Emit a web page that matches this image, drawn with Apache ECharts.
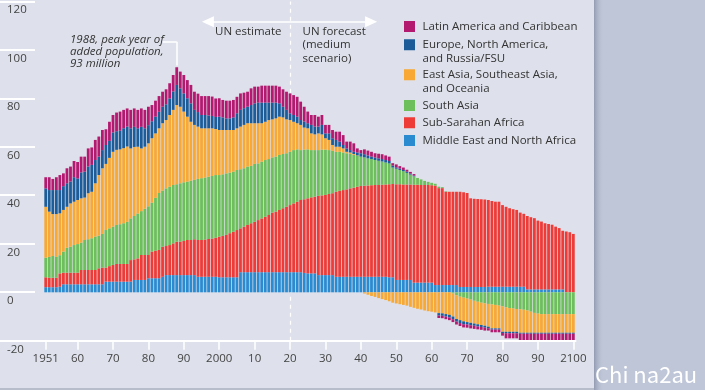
<!DOCTYPE html>
<html>
<head>
<meta charset="utf-8">
<script src="https://cdn.jsdelivr.net/npm/echarts@6/dist/echarts.min.js"></script>
<style>html,body{margin:0;padding:0;background:#dee1eb;}#chart{width:705px;height:390px;}</style>
</head>
<body>
<div id="chart"></div>
<script>
// ---- Data (millions of people added per year, by region) ----
const startYear = 1951;
const endYear = 2100;
const tickYears = [1951, 1960, 1970, 1980, 1990, 2000, 2010, 2020, 2030, 2040, 2050, 2060, 2070, 2080, 2090, 2100];
const yTicks = [-20, 0, 20, 40, 60, 80, 100, 120];

const seriesNames = [
  'Middle East and North Africa',
  'Sub-Sarahan Africa',
  'South Asia',
  'East Asia, Southeast Asia, and Oceania',
  'Europe, North America, and Russia/FSU',
  'Latin America and Caribbean'
];
const legendLabels = {
  'Latin America and Caribbean': 'Latin America and Caribbean',
  'Europe, North America, and Russia/FSU': 'Europe, North America,\nand Russia/FSU',
  'East Asia, Southeast Asia, and Oceania': 'East Asia, Southeast Asia,\nand Oceania',
  'South Asia': 'South Asia',
  'Sub-Sarahan Africa': 'Sub-Sarahan Africa',
  'Middle East and North Africa': 'Middle East and North Africa'
};
const colors = ['#2b8bd1', '#ee3b37', '#6cbf5b', '#f8a834', '#1b5c99', '#b2196f'];

const mena = [
  2.1,2.1,2.1,2.1,2.3,3.3,3.3,3.3,3.3,3.3,
  3.3,3.3,3.3,3.3,3.3,3.3,3.3,4.4,4.4,4.4,
  4.4,4.4,4.4,4.4,4.4,5.1,5.1,5.1,5.1,5.8,
  5.8,5.8,5.8,6.4,7.1,7.1,7.1,7.1,7.1,7.1,
  7.1,7.1,7.1,6.4,6.4,6.4,6.4,6.4,6.4,6.2,
  6.2,6.2,6.2,6.2,6.2,8.3,8.3,8.3,8.3,8.3,
  8.3,8.3,8.3,8.3,8.3,8.3,8.3,8.3,8.3,8.3,
  8.3,8.3,8.3,8.0,7.8,7.8,7.8,7.1,7.1,7.1,
  7.1,7.1,6.4,6.4,6.4,6.4,6.4,6.4,6.4,6.4,
  6.4,6.4,6.4,6.4,6.4,6.4,6.4,6.2,6.2,5.1,
  5.1,5.1,5.1,5.1,4.0,4.0,4.0,4.0,4.0,4.0,
  3.0,3.0,3.0,3.0,3.0,3.0,3.0,2.2,2.2,2.2,
  2.2,2.2,2.2,2.2,2.2,2.3,2.3,2.3,2.3,2.3,
  2.3,2.3,2.3,2.3,2.3,2.3,1.2,1.2,1.2,1.2,
  1.2,1.2,1.2,1.2,1.2,1.2,1.2,0,0,0
];
const subSaharan = [
  4.1,3.9,3.9,3.9,5.5,4.8,4.8,4.8,4.8,4.8,
  5.9,5.9,5.9,5.9,5.9,6.6,6.9,5.8,6.4,6.9,
  7.3,7.3,7.3,7.3,8.9,8.5,8.9,10.3,10.3,9.6,
  11.0,11.4,11.7,12.4,12.0,12.4,13.1,13.8,13.8,14.1,
  14.5,14.5,14.8,15.2,15.2,15.4,15.6,15.8,16.1,16.8,
  17.1,17.5,18.2,18.8,19.5,18.1,18.8,19.5,20.2,20.8,
  21.5,22.2,22.9,23.6,24.6,25.0,25.7,26.4,27.0,27.7,
  28.4,29.1,29.8,30.4,31.0,31.4,31.7,32.7,32.9,33.1,
  33.5,33.8,35.1,35.5,35.8,36.1,36.5,36.8,37.2,37.5,
  37.6,37.7,37.8,37.9,37.9,38.0,38.1,38.4,38.5,39.5,
  39.5,39.4,39.4,39.4,40.4,40.4,40.3,40.3,40.3,40.2,
  41.0,40.0,40.0,38.5,38.5,38.5,38.5,39.3,39.1,38.8,
  36.6,36.4,36.3,36.2,36.1,35.8,35.4,35.1,35.1,33.7,
  33.0,32.4,32.0,31.7,30.6,30.1,30.3,29.8,29.4,28.4,
  28.0,27.3,27.0,26.7,25.9,25.3,24.2,25.1,24.8,24.1
];
const southAsia = [
  8.1,8.6,9.0,8.6,7.5,8.7,10.3,10.7,11.4,11.8,
  11.3,12.4,12.7,13.1,13.8,13.5,13.9,15.5,15.6,15.8,
  16.1,16.4,16.8,17.4,17.2,17.9,18.5,18.1,19.1,20.1,
  20.2,21.8,23.5,23.2,23.8,24.1,24.1,23.7,24.1,24.2,
  24.1,24.5,24.5,25.2,25.5,25.6,25.7,25.8,25.9,25.4,
  25.4,25.4,25.0,24.8,24.8,24.4,24.1,24.1,23.7,23.9,
  23.4,23.4,23.4,23.1,22.8,22.7,22.7,22.4,22.1,22.0,
  22.0,21.6,20.6,20.5,20.2,19.5,19.2,18.9,18.9,18.7,
  18.1,17.5,16.5,16.1,15.5,14.9,14.2,13.5,12.7,12.1,
  11.7,11.2,10.8,10.3,10.0,9.6,9.1,8.6,6.8,6.4,
  5.9,5.5,4.8,4.1,3.5,2.8,2.3,1.7,1.3,1.0,
  0.8,0.6,0.4,0.2,0,-0.5,-1.2,-1.8,-2.2,-2.6,
  -3.0,-3.5,-3.9,-4.3,-4.6,-4.8,-5.0,-5.2,-5.5,-5.8,
  -6.2,-6.5,-6.7,-6.9,-7.0,-7.2,-7.5,-8.0,-8.5,-8.8,
  -9.0,-9.0,-9.0,-9.0,-9.0,-9.0,-9.0,-9.0,-9.0,-9.0
];
const eastAsia = [
  21.0,18.7,17.3,17.7,17.3,17.2,16.9,17.9,17.9,18.2,
  18.3,17.5,19.0,19.2,22.0,25.0,27.1,27.3,29.1,30.9,
  31.0,30.9,31.0,31.1,28.9,28.5,27.6,25.9,25.6,26.0,
  26.6,26.6,26.7,27.8,28.2,29.6,31.0,32.7,31.6,29.2,
  26.8,24.3,22.7,21.6,20.6,20.3,20.0,19.7,19.0,18.6,
  18.3,17.9,17.6,17.2,17.2,17.6,17.9,17.9,17.6,16.8,
  16.6,15.9,15.8,16.1,15.7,15.8,15.8,15.1,14.0,13.1,
  11.7,10.8,10.4,9.1,8.7,6.9,6.5,6.9,6.3,4.7,
  4.2,2.4,2.1,2.1,1.7,0.6,0.6,0.4,0.2,0.0,
  -0.5,-1.0,-1.5,-1.9,-2.4,-2.8,-3.2,-3.7,-4.3,-4.6,
  -4.9,-5.2,-5.5,-6.0,-6.4,-6.8,-7.1,-7.5,-7.8,-8.0,
  -8.3,-8.6,-8.7,-9.0,-9.3,-9.5,-9.8,-9.7,-9.8,-9.7,
  -9.6,-9.4,-9.3,-9.2,-9.2,-9.4,-9.9,-9.7,-9.4,-10.5,
  -10.1,-9.8,-9.6,-9.4,-9.7,-9.5,-9.2,-8.7,-8.2,-7.9,
  -7.7,-7.7,-7.7,-7.7,-7.7,-7.7,-7.7,-7.7,-7.7,-7.7
];
const europe = [
  7.6,8.9,9.9,9.9,9.6,9.8,9.7,9.0,10.1,8.9,
  10.7,10.7,11.0,11.1,9.6,7.6,7.5,7.8,7.0,8.0,
  7.7,7.7,8.2,8.2,8.3,8.3,7.6,8.9,7.6,7.5,
  7.0,6.9,6.8,6.8,6.5,6.8,7.6,8.3,7.6,7.5,
  7.6,7.6,6.2,6.0,5.5,5.5,5.3,5.1,5.0,5.5,
  5.2,4.8,4.8,5.2,6.2,6.9,6.9,6.8,7.5,8.2,
  8.5,8.5,7.9,7.2,6.9,6.5,5.5,4.4,3.9,2.8,
  2.8,2.7,2.0,2.5,2.1,3.5,3.2,2.8,3.9,2.0,
  2.7,2.8,2.8,2.1,1.4,1.4,1.0,0.9,1.2,1.4,
  1.3,1.2,1.0,1.0,1.0,1.0,1.0,1.0,0.8,0.6,
  0.6,0.5,0.5,0.4,0.3,0,0,0,0,0,
  0,-1.0,-1.0,-1.0,-1.1,-1.1,-1.1,-1.2,-1.2,-1.0,
  -1.0,-0.9,-0.9,-0.8,-0.8,-0.6,-0.5,-0.5,-0.5,-0.5,
  -0.6,-0.6,-0.6,-0.6,-0.4,-0.4,-0.4,-0.4,-0.4,-0.4,
  -0.4,-0.4,-0.4,-0.4,-0.4,-0.4,-0.4,-0.4,-0.4,-0.4
];
const latinAmerica = [
  4.6,5.3,4.6,5.3,6.2,5.3,6.2,6.2,6.7,6.8,
  6.5,6.2,7.5,7.2,8.3,8.3,8.3,6.5,7.9,7.2,
  7.7,7.9,7.6,7.5,7.6,7.6,7.6,7.6,7.6,7.6,
  6.7,6.6,6.5,6.2,6.2,6.3,6.8,7.3,6.9,7.6,
  7.5,7.6,7.5,7.6,7.8,7.8,8.0,8.0,7.6,7.6,
  7.2,7.3,7.3,7.2,6.8,6.8,6.4,6.2,6.9,6.9,
  6.6,7.0,7.0,7.0,7.0,7.0,6.9,7.2,7.5,8.2,
  8.2,8.2,7.6,6.1,4.8,4.1,4.8,4.1,4.1,3.5,
  3.5,3.4,3.4,4.1,4.1,2.8,3.5,3.5,1.7,1.3,
  2.0,2.0,2.0,1.8,1.9,2.0,1.9,1.8,1.0,1.2,
  1.0,1.0,0.8,0.7,0.6,0,0,0,0,0,
  0,-1.0,-1.0,-1.1,-1.1,-1.2,-1.2,-1.2,-1.3,-1.3,
  -1.3,-1.3,-1.2,-1.2,-1.2,-1.0,-1.1,-1.1,-1.1,-1.1,
  -2.1,-2.1,-2.1,-2.1,-2.6,-2.6,-2.6,-2.6,-2.6,-2.6,
  -2.6,-2.6,-2.6,-2.6,-2.6,-2.6,-2.6,-2.6,-2.6,-2.6
];
const seriesValues = [mena, subSaharan, southAsia, eastAsia, europe, latinAmerica];

// ---- Build chart ----
const years = [];
for (let y = startYear; y <= endYear; y++) years.push(y);

const FONT = '"Open Sans", "Noto Sans", sans-serif';
const TEXT = '#333333';
const X_MIN = 1938.09, X_MAX = 2100.61;
const STUB_PX = 35; // length of the short gridline stubs on the left

function yearLabel(v) {
  if (v === 1951 || v === 2000 || v === 2100) return String(v);
  return String(v % 100).padStart(2, '0');
}

// data rows are [value, year]; value is dimension 0 so stacking happens on it
const barSeries = seriesNames.map((name, i) => ({
  name: name,
  type: 'bar',
  stack: 'total',
  barWidth: 2.8,
  encode: { x: 1, y: 0 },
  itemStyle: { color: colors[i] },
  emphasis: { disabled: true },
  silent: true,
  data: years.map((yr, k) => [seriesValues[i][k], yr])
}));

// Annotation lines (arrows + leader) on the top series
barSeries[5].markLine = {
  silent: true,
  z: 6,
  animation: false,
  label: { show: false },
  emphasis: { disabled: true },
  lineStyle: { color: '#ffffff', width: 1.5, type: 'solid' },
  symbol: ['none', 'triangle'],
  symbolSize: [11, 12],
  data: [
    [{ coord: [2020, 111.7] }, { coord: [1996.8, 111.7] }],
    [{ coord: [2020, 111.7] }, { coord: [2042.9, 111.7] }],
    [{ coord: [1984.1, 103.4], symbol: 'none' }, { coord: [1988, 103.4], symbol: 'none' }],
    [{ coord: [1988, 103.4], symbol: 'none' }, { coord: [1988, 93.6], symbol: 'none' }]
  ]
};

const dividerSeries = {
  name: 'divider',
  type: 'line',
  data: [],
  silent: true,
  markLine: {
    silent: true,
    z: 1,
    animation: false,
    symbol: 'none',
    label: { show: false },
    emphasis: { disabled: true },
    lineStyle: { color: '#ffffff', width: 1.2, type: [4, 4] },
    data: [{ xAxis: 2020 }]
  }
};

// legend icon for two-line entries: an 11px square at the top of a taller box
const TALL_ICON = 'path://M0 0L11 0L11 11L0 11Z M0 24.5L11 24.5';
const legendOrder = [
  { name: 'Latin America and Caribbean', top: 19.75, two: false },
  { name: 'Europe, North America, and Russia/FSU', top: 38.05, two: true },
  { name: 'East Asia, Southeast Asia, and Oceania', top: 68.05, two: true },
  { name: 'South Asia', top: 98.75, two: false },
  { name: 'Sub-Sarahan Africa', top: 116, two: false },
  { name: 'Middle East and North Africa', top: 133.75, two: false }
];
const legends = legendOrder.map(l => ({
  data: [l.name],
  left: 404,
  top: l.top,
  orient: 'vertical',
  padding: 0,
  itemWidth: 11,
  itemHeight: l.two ? 24.5 : 11,
  icon: l.two ? TALL_ICON : 'rect',
  symbolKeepAspect: true,
  selectedMode: false,
  formatter: () => legendLabels[l.name],
  textStyle: {
    color: TEXT,
    fontFamily: FONT,
    fontSize: 11.5,
    lineHeight: 13.5,
    padding: [0, 0, 0, 2.5]
  }
}));

const baseGraphics = [
  { id: 'strip', type: 'rect', z: -1, shape: { x: 594, y: 0, width: 111, height: 390 }, style: { fill: '#bec6d8' } },
  { id: 'shadow', type: 'rect', z: -1, shape: { x: 594, y: 0, width: 10, height: 390 },
    style: { fill: new echarts.graphic.LinearGradient(0, 0, 1, 0, [
      { offset: 0, color: 'rgba(110,120,145,0.55)' },
      { offset: 1, color: 'rgba(190,198,216,0)' }
    ]) } },
  { id: 'bottomEdge', type: 'rect', z: -1, shape: { x: 0, y: 388, width: 594, height: 2 }, style: { fill: '#b7bdca' } },
  { id: 'peakNote', type: 'text', x: 70, y: 34, style: { text: '1988, peak year of\nadded population,\n93 million', font: 'italic 11.5px "Open Sans"', lineHeight: 11.7, fill: TEXT } },
  { id: 'estNote', type: 'text', x: 215, y: 25, style: { text: 'UN estimate', font: '11.5px "Open Sans"', lineHeight: 13.3, fill: TEXT } },
  { id: 'fcNote', type: 'text', x: 302.5, y: 25, style: { text: 'UN forecast\n(medium\nscenario)', font: '11.5px "Open Sans"', lineHeight: 13.3, fill: TEXT } },
  { id: 'mark', type: 'text', x: 595, y: 364, style: { text: 'Chi na2au', font: '22px "Noto Sans CJK JP"', fill: '#ffffff' } }
];

const option = {
  animation: false,
  backgroundColor: '#dee1eb',
  textStyle: { fontFamily: FONT },
  grid: { left: 0, right: 129.5, top: 1.6, bottom: 49.25, containLabel: false, outerBoundsMode: 'none' },
  legend: legends,
  xAxis: {
    type: 'value',
    min: X_MIN,
    max: X_MAX,
    splitLine: { show: false },
    axisLine: { show: true, onZero: false, lineStyle: { color: '#ffffff', width: 2 } },
    axisTick: { show: true, customValues: tickYears, length: 9, lineStyle: { color: '#ffffff', width: 1.5 } },
    axisLabel: {
      customValues: tickYears,
      formatter: yearLabel,
      margin: 12,
      color: '#444444',
      fontSize: 11.5,
      fontFamily: FONT
    }
  },
  yAxis: {
    type: 'value',
    min: yTicks[0],
    max: yTicks[yTicks.length - 1],
    interval: 20,
    splitLine: { show: false },
    axisLine: { show: false },
    axisTick: { show: false },
    axisLabel: {
      inside: true,
      margin: 7,
      color: '#444444',
      fontSize: 11.5,
      fontFamily: FONT,
      verticalAlign: 'top',
      padding: [2.5, 0, 0, 0]
    }
  },
  graphic: baseGraphics,
  series: [dividerSeries].concat(barSeries)
};

const chart = echarts.init(document.getElementById('chart'), null, { renderer: 'canvas' });
chart.setOption(option);

// short white gridline stubs at each y tick, positioned through the y-axis scale
const stubs = yTicks.map((v, i) => {
  const p = chart.convertToPixel({ xAxisIndex: 0, yAxisIndex: 0 }, [X_MIN, v]);
  return {
    id: 'stub' + i,
    type: 'rect',
    z: 10,
    silent: true,
    shape: { x: p[0], y: Math.round(p[1]) - 1, width: STUB_PX, height: 2 },
    style: { fill: '#ffffff' }
  };
});
chart.setOption({ graphic: baseGraphics.concat(stubs) });
</script>
</body>
</html>
